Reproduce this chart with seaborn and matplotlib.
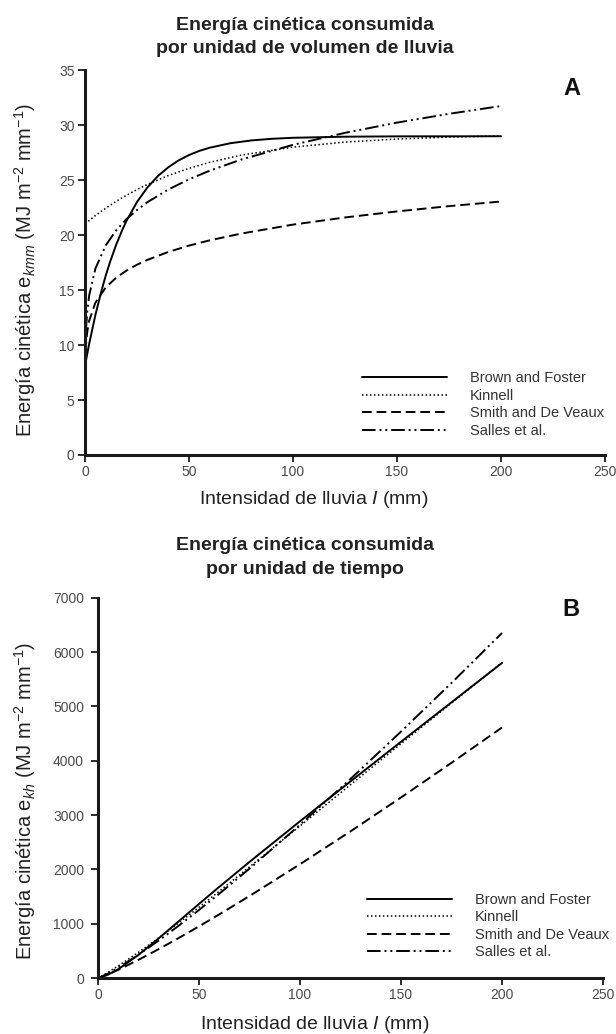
# Energía cinética de la lluvia: dos paneles (A y B)

import matplotlib
matplotlib.use('Agg')
import seaborn as sns
import matplotlib.pyplot as plt

# Datos (panel A: por unidad de volumen)
intensidad_brown_a = [0, 2, 5, 8, 10, 12, 15, 18, 20, 25, 30, 35, 40, 45, 50, 55, 60, 70, 80, 90,
                      100, 125, 150, 200]
brown_a = [8.12, 10.11, 12.74, 15.0, 16.34, 17.54, 19.14, 20.51, 21.32, 23.02, 24.34, 25.37,
           26.17, 26.8, 27.29, 27.67, 27.96, 28.37, 28.62, 28.77, 28.86, 28.96, 28.99, 29.0]

intensidad_a = [0.1, 0.5, 1, 2, 5, 10, 15, 20, 25, 30, 40, 50, 60, 75, 100, 125, 150, 175, 200]
kinnell_a = [21.03, 21.10, 21.18, 21.33, 21.78, 22.46, 23.08, 23.64, 24.15, 24.62, 25.42, 26.08,
             26.63, 27.28, 28.01, 28.47, 28.75, 28.92, 29.03]
smith_a = [8.08, 10.09, 11.1, 12.21, 13.86, 15.25, 16.13, 16.78, 17.31, 17.75, 18.47, 19.05,
           19.53, 20.14, 20.96, 21.61, 22.16, 22.64, 23.06]
salles_a = [8.72, 11.47, 12.9, 14.51, 16.96, 19.08, 20.44, 21.47, 22.29, 23.0, 24.15, 25.08,
            25.87, 26.87, 28.22, 29.31, 30.24, 31.04, 31.75]

# Panel B: por unidad de tiempo
intensidad_b = [0, 5, 10, 20, 30, 40, 50, 60, 75, 100, 125, 150, 175, 200]
brown_b = [0, 64, 163, 426, 730, 1047, 1365, 1678, 2138, 2886, 3620, 4349, 5075, 5800]
kinnell_b = [0, 109, 225, 473, 739, 1017, 1304, 1598, 2046, 2801, 3559, 4313, 5061, 5806]
smith_b = [0, 69, 153, 336, 533, 739, 953, 1172, 1511, 2096, 2701, 3324, 3962, 4612]
salles_b = [0, 85, 191, 429, 690, 966, 1254, 1552, 2015, 2822, 3664, 4536, 5432, 6350]

nombres = ['Brown and Foster', 'Kinnell', 'Smith and De Veaux', 'Salles et al.']
estilos = ['-', (0, (1, 1.6)), (0, (5, 2.5)), (0, (7, 2, 1, 2, 1, 2))]
anchos = [1.4, 1.1, 1.4, 1.4]

sns.set_theme(style='ticks')
plt.rcParams['font.family'] = ['Liberation Sans', 'DejaVu Sans']
plt.rcParams['mathtext.fontset'] = 'custom'
plt.rcParams['mathtext.rm'] = 'Liberation Sans'
plt.rcParams['mathtext.it'] = 'Liberation Sans:italic'

fig = plt.figure(figsize=(6.16, 10.34), dpi=100)
ax_a = fig.add_axes([0.138, 0.560, 0.844, 0.372])
ax_b = fig.add_axes([0.159, 0.054, 0.820, 0.368])

paneles = [
    (ax_a, [intensidad_brown_a, intensidad_a, intensidad_a, intensidad_a],
     [brown_a, kinnell_a, smith_a, salles_a], 35, 5, 2.5,
     'Energía cinética consumida\npor unidad de volumen de lluvia', 0.964,
     'Energía cinética e$_{kmm}$ (MJ m$^{-2}$ mm$^{-1}$)', (-0.091, 0.48), (0.44, -0.088),
     'A', 0.953, (0.533, 0.218)),
    (ax_b, [intensidad_b] * 4,
     [brown_b, kinnell_b, smith_b, salles_b], 7000, 1000, 5,
     'Energía cinética consumida\npor unidad de tiempo', 0.461,
     'Energía cinética e$_{kh}$ (MJ m$^{-2}$ mm$^{-1}$)', (-0.119, 0.465), (0.43, -0.093),
     'B', 0.968, (0.533, 0.224)),
]

for (ax, xs_list, series, ymax, paso, ypad, titulo, ytit, ylab, ypos_lab, xpos_lab,
     letra, ypos, ancla) in paneles:
    for xs, ys, nombre, ls, lw in zip(xs_list, series, nombres, estilos, anchos):
        sns.lineplot(x=xs, y=ys, ax=ax, color='black', linestyle=ls, linewidth=lw, label=nombre)

    ax.set_xlim(0, 250)
    ax.set_ylim(0, ymax)
    ax.set_xticks(range(0, 251, 50))
    ax.set_yticks(range(0, ymax + 1, paso))
    sns.despine(ax=ax)
    for lado in ['left', 'bottom']:
        ax.spines[lado].set_linewidth(2.2)
        ax.spines[lado].set_color('#1a1a1a')
    ax.tick_params(length=5, width=1.3, color='#1a1a1a', labelsize=10, labelcolor='#4a4a4a', pad=2)
    ax.tick_params(axis='y', pad=ypad)

    fig.text(0.495, ytit, titulo, fontsize=14, fontweight='bold', color='#222222',
             ha='center', va='center', linespacing=1.5)
    ax.set_xlabel('Intensidad de lluvia $I$ (mm)', fontsize=14, color='#222222')
    ax.xaxis.set_label_coords(*xpos_lab)
    ax.set_ylabel(ylab, fontsize=14.5, color='#222222')
    ax.yaxis.set_label_coords(*ypos_lab)
    ax.text(0.937, ypos, letra, transform=ax.transAxes, fontsize=17, fontweight='bold',
            ha='center', va='center', color='#111111')

    leg = ax.legend(loc='upper left', bbox_to_anchor=ancla, frameon=False, fontsize=10.5,
                    handlelength=5.8, handletextpad=1.6, labelspacing=0.24, borderaxespad=0,
                    borderpad=0)
    for t in leg.get_texts():
        t.set_color('#333333')

fig.savefig('out.png', dpi=100)
